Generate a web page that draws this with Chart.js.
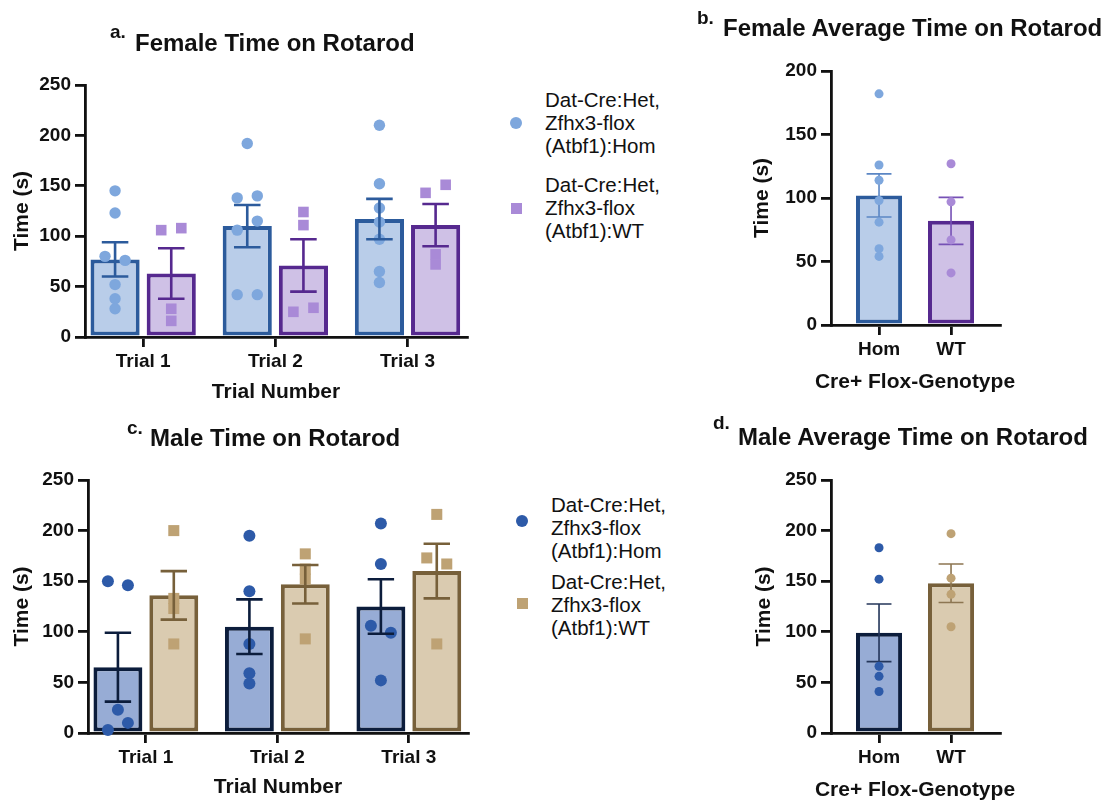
<!DOCTYPE html>
<html>
<head>
<meta charset="utf-8">
<script src="https://cdn.jsdelivr.net/npm/chart.js@4.4.0/dist/chart.umd.min.js"></script>
<style>
    body { margin: 0; background: #fff; font-family: 'Liberation Sans', Arial, sans-serif; color: #111; }
    #page { position: relative; width: 1113px; height: 801px; overflow: hidden; }
    canvas { position: absolute; }
    .title { position: absolute; font-weight: 700; font-size: 24px; line-height: 24px; white-space: nowrap; }
    .letter { position: absolute; font-weight: 700; font-size: 19px; line-height: 19px; }
    .axis-title { position: absolute; font-weight: 700; font-size: 21px; line-height: 21px; white-space: nowrap; transform: translateX(-50%); }
    .legend { position: absolute; font-size: 20.5px; line-height: 23px; white-space: pre; }
    .mark { position: absolute; }
</style>
</head>
<body>
<div id="page">
    <canvas id="chartA" width="480" height="390" style="left:0;top:20px"></canvas>
    <canvas id="chartB" width="423" height="400" style="left:690px;top:0"></canvas>
    <canvas id="chartC" width="480" height="381" style="left:0;top:420px"></canvas>
    <canvas id="chartD" width="423" height="391" style="left:690px;top:410px"></canvas>

    <div class="letter" style="left:110px;top:22px">a.</div>
    <div class="title" style="left:135px;top:31px">Female Time on Rotarod</div>
    <div class="letter" style="left:697px;top:8px">b.</div>
    <div class="title" style="left:723px;top:16px">Female Average Time on Rotarod</div>
    <div class="letter" style="left:127px;top:418px">c.</div>
    <div class="title" style="left:150px;top:426px">Male Time on Rotarod</div>
    <div class="letter" style="left:713px;top:413px">d.</div>
    <div class="title" style="left:738px;top:425px">Male Average Time on Rotarod</div>

    <!-- wider than the plot, so kept out of the canvas where Chart.js would squeeze it -->
    <div class="axis-title" style="left:915px;top:370px">Cre+ Flox-Genotype</div>
    <div class="axis-title" style="left:915px;top:778px">Cre+ Flox-Genotype</div>
</div>

<script>
const trials = ['Trial 1', 'Trial 2', 'Trial 3'];
const genotypes = ['Hom', 'WT'];
const groupLabels = ['Dat-Cre:Het,\nZfhx3-flox\n(Atbf1):Hom', 'Dat-Cre:Het,\nZfhx3-flox\n(Atbf1):WT'];

// a. female, per trial
const femHomMean = [77, 110, 117];
const femHomSem = [17, 21, 20];
const femWtMean = [63, 71, 111];
const femWtSem = [25, 26, 21];
const femHomPts = [[145, 123, 80, 76, 52, 38, 28], [192, 138, 140, 106, 115, 42, 42], [210, 152, 128, 114, 97, 65, 54]];
const femWtPts = [[106, 108, 28, 16], [124, 111, 25, 29], [143, 151, 82, 72]];

// b. female average
const femAvgMean = [102, 82];
const femAvgSem = [17, 18.5];
const femAvgHomPts = [182, 126, 114, 98, 81, 60, 54];
const femAvgWtPts = [127, 97, 67, 41];

// c. male, per trial
const maleHomMean = [65, 105, 125];
const maleHomSem = [34, 27, 27];
const maleWtMean = [136, 147, 160];
const maleWtSem = [24, 19, 27];
const maleHomPts = [[150, 146, 23, 3, 10], [195, 140, 88, 59, 49], [207, 167, 106, 99, 52]];
const maleWtPts = [[200, 133, 123, 88], [177, 162, 152, 93], [216, 173, 167, 88]];

// d. male average
const maleAvgMean = [99, 148];
const maleAvgSem = [28.5, 19];
const maleAvgHomPts = [183, 152, 66, 56, 41];
const maleAvgWtPts = [197, 153, 137, 105];

const COL = {
    femHom: { fill: '#b9cde9', line: '#2c5b9c', dot: '#7ea7dd', err: '#5b86c4' },
    femWt: { fill: '#cfc1e6', line: '#56298f', dot: '#a98ad7', err: '#7651b5' },
    maleHom: { fill: '#97acd5', line: '#0c1d3c', dot: '#2d5aa8', err: '#24365a' },
    maleWt: { fill: '#dacbb0', line: '#77603a', dot: '#bea274', err: '#8d7652' }
};

Chart.defaults.font.family = "'Liberation Sans', Arial, sans-serif";
Chart.defaults.color = '#111';

const CAT_PCT = 0.85;
const GROUP_OFF = CAT_PCT / 4;   // centre of each bar in a pair, category units
const JIT = 0.076;               // half distance of side by side points

// points closer than tol sit side by side, in the order they were listed
function spread(vals, base, tol) {
    const idx = vals.map((v, i) => i).sort((a, b) => vals[a] - vals[b]);
    const xs = vals.map(() => base);
    let group = [idx[0]];
    const flush = () => {
        group.sort((a, b) => a - b);
        group.forEach((g, k) => { xs[g] = base + (k - (group.length - 1) / 2) * 2 * JIT; });
    };
    for (let k = 1; k < idx.length; k++) {
        if (vals[idx[k]] - vals[idx[k - 1]] < tol) group.push(idx[k]);
        else { flush(); group = [idx[k]]; }
    }
    flush();
    return vals.map((v, i) => ({ x: xs[i], y: v }));
}

function drawErr(chart, i, opts) {
    const ds = chart.data.datasets[i];
    if (!ds.sem) return;
    const meta = chart.getDatasetMeta(i);
    const y = chart.scales.y;
    const ctx = chart.ctx;
    ctx.save();
    ctx.lineWidth = opts.width;
    meta.data.forEach((bar, j) => {
        const mean = ds.data[j].y, s = ds.sem[j];
        const top = y.getPixelForValue(mean + s), bot = y.getPixelForValue(mean - s);
        const half = bar.width * opts.cap;
        ctx.strokeStyle = Array.isArray(ds.errColor) ? ds.errColor[j] : ds.errColor;
        ctx.beginPath();
        ctx.moveTo(bar.x, top); ctx.lineTo(bar.x, bot);
        ctx.moveTo(bar.x - half, top); ctx.lineTo(bar.x + half, top);
        ctx.moveTo(bar.x - half, bot); ctx.lineTo(bar.x + half, bot);
        ctx.stroke();
    });
    ctx.restore();
}

const errorBars = {
    id: 'errorBars',
    afterDatasetDraw(chart, args, opts) {
        if (!opts.onTop) drawErr(chart, args.index, opts);
    },
    afterDatasetsDraw(chart, args, opts) {
        if (opts.onTop) chart.data.datasets.forEach((ds, i) => drawErr(chart, i, opts));
    }
};

function buildChart(id, p) {
    const datasets = [];
    p.bars.forEach(b => datasets.push({
        type: 'bar', label: b.label,
        data: b.mean.map((m, i) => ({ x: i, y: m })),
        sem: b.sem, errColor: b.err,
        backgroundColor: b.fill, borderColor: b.line, borderWidth: 4, borderSkipped: false,
        categoryPercentage: p.catPct, barPercentage: p.barPct, order: 2
    }));
    p.dots.forEach(d => datasets.push({
        type: 'scatter', label: d.label, data: d.pts,
        pointStyle: d.style, pointRadius: d.r, backgroundColor: d.color, borderWidth: 0,
        clip: false, order: 1
    }));

    return new Chart(document.getElementById(id), {
        type: 'bar',
        data: { datasets },
        options: {
            responsive: false,
            animation: false,
            events: [],
            layout: { padding: p.pad },
            plugins: {
                legend: { display: false },
                tooltip: { enabled: false },
                errorBars: { onTop: p.errOnTop, width: p.errWidth, cap: 0.27 }
            },
            scales: {
                x: {
                    type: 'linear', min: p.xMin, max: p.xMax, offset: false,
                    afterBuildTicks: s => { s.ticks = p.cats.map((c, i) => ({ value: i })); },
                    afterFit: s => { s.height = p.xHeight; },
                    ticks: {
                        callback: v => p.cats[v], font: { size: 19, weight: 'bold' }, color: '#111',
                        padding: 3, maxRotation: 0, autoSkip: false
                    },
                    grid: { drawOnChartArea: false, tickLength: 10, color: '#111', lineWidth: 2.8, offset: false },
                    border: { color: '#111', width: 2.8 },
                    title: {
                        display: !!p.xTitle, text: p.xTitle, color: '#111',
                        font: { size: 21, weight: 'bold' }, padding: { top: 0, bottom: p.xTitlePad }
                    }
                },
                y: {
                    min: 0, max: p.yMax,
                    afterFit: s => { s.width = p.yWidth; },
                    ticks: { stepSize: 50, font: { size: 19, weight: 'bold' }, color: '#111', padding: 4 },
                    grid: { drawOnChartArea: false, tickLength: 10, color: '#111', lineWidth: 2.8 },
                    border: { color: '#111', width: 2.8 },
                    title: {
                        display: true, text: 'Time (s)', color: '#111',
                        font: { size: 21, weight: 'bold' }, padding: { top: p.yTitlePad, bottom: 0 }
                    }
                }
            }
        },
        plugins: [errorBars]
    });
}

function trialDots(pts, side, col, style, r, label) {
    const all = [];
    pts.forEach((vals, i) => spread(vals, i + side * GROUP_OFF, 10).forEach(pt => all.push(pt)));
    return { label, pts: all, style, r, color: col.dot };
}

// a.
buildChart('chartA', {
    cats: trials, xTitle: 'Trial Number', yMax: 250,
    xMin: -0.44, xMax: 2.45,
    pad: { top: 65, right: 13, bottom: 0, left: 0 }, yWidth: 85, xHeight: 73,
    yTitlePad: 10, xTitlePad: 5,
    catPct: CAT_PCT, barPct: 0.875, errOnTop: true, errWidth: 2.6,
    bars: [
        { label: groupLabels[0], mean: femHomMean, sem: femHomSem, fill: COL.femHom.fill, line: COL.femHom.line, err: COL.femHom.line },
        { label: groupLabels[1], mean: femWtMean, sem: femWtSem, fill: COL.femWt.fill, line: COL.femWt.line, err: COL.femWt.line }
    ],
    dots: [
        trialDots(femHomPts, -1, COL.femHom, 'circle', 5.7, groupLabels[0]),
        trialDots(femWtPts, 1, COL.femWt, 'rect', 7.5, groupLabels[1])
    ]
});

// b.
buildChart('chartB', {
    cats: genotypes, xTitle: '', yMax: 200,
    xMin: -0.667, xMax: 1.68,
    pad: { top: 71, right: 113, bottom: 0, left: 0 }, yWidth: 141, xHeight: 75,
    yTitlePad: 60, xTitlePad: 8,
    catPct: 1, barPct: 0.64, errOnTop: false, errWidth: 1.6,
    bars: [
        { label: 'Female average', mean: femAvgMean, sem: femAvgSem,
          fill: [COL.femHom.fill, COL.femWt.fill], line: [COL.femHom.line, COL.femWt.line], err: [COL.femHom.err, COL.femWt.err] }
    ],
    dots: [
        { label: genotypes[0], pts: spread(femAvgHomPts, 0, 0), style: 'circle', r: 4.5, color: COL.femHom.dot },
        { label: genotypes[1], pts: spread(femAvgWtPts, 1, 0), style: 'circle', r: 4.5, color: COL.femWt.dot }
    ]
});

// c.
buildChart('chartC', {
    cats: trials, xTitle: 'Trial Number', yMax: 250,
    xMin: -0.44, xMax: 2.45,
    pad: { top: 60, right: 12, bottom: 0, left: 0 }, yWidth: 88, xHeight: 68,
    yTitlePad: 10, xTitlePad: 1,
    catPct: CAT_PCT, barPct: 0.875, errOnTop: true, errWidth: 2.6,
    bars: [
        { label: groupLabels[0], mean: maleHomMean, sem: maleHomSem, fill: COL.maleHom.fill, line: COL.maleHom.line, err: COL.maleHom.line },
        { label: groupLabels[1], mean: maleWtMean, sem: maleWtSem, fill: COL.maleWt.fill, line: COL.maleWt.line, err: COL.maleWt.line }
    ],
    dots: [
        trialDots(maleHomPts, -1, COL.maleHom, 'circle', 6, groupLabels[0]),
        trialDots(maleWtPts, 1, COL.maleWt, 'rect', 7.8, groupLabels[1])
    ]
});

// d.
buildChart('chartD', {
    cats: genotypes, xTitle: '', yMax: 250,
    xMin: -0.667, xMax: 1.68,
    pad: { top: 70, right: 113, bottom: 0, left: 0 }, yWidth: 141, xHeight: 68,
    yTitlePad: 62, xTitlePad: 1,
    catPct: 1, barPct: 0.64, errOnTop: false, errWidth: 1.6,
    bars: [
        { label: 'Male average', mean: maleAvgMean, sem: maleAvgSem,
          fill: [COL.maleHom.fill, COL.maleWt.fill], line: [COL.maleHom.line, COL.maleWt.line], err: [COL.maleHom.err, COL.maleWt.err] }
    ],
    dots: [
        { label: genotypes[0], pts: spread(maleAvgHomPts, 0, 0), style: 'circle', r: 4.5, color: COL.maleHom.dot },
        { label: genotypes[1], pts: spread(maleAvgWtPts, 1, 0), style: 'circle', r: 4.5, color: COL.maleWt.dot }
    ]
});

// legends for a. and c.
function addLegend(x, textX, entries) {
    const page = document.getElementById('page');
    entries.forEach(e => {
        const size = e.round ? 12 : 11;
        const m = document.createElement('div');
        m.className = 'mark';
        m.style.width = size + 'px';
        m.style.height = size + 'px';
        m.style.left = (x - size / 2) + 'px';
        m.style.top = (e.markY - size / 2) + 'px';
        m.style.background = e.color;
        if (e.round) m.style.borderRadius = '50%';
        page.appendChild(m);
        const t = document.createElement('div');
        t.className = 'legend';
        t.style.left = textX + 'px';
        t.style.top = e.top + 'px';
        t.textContent = e.text;
        page.appendChild(t);
    });
}
addLegend(516, 545, [
    { text: groupLabels[0], top: 88, markY: 123, color: COL.femHom.dot, round: true },
    { text: groupLabels[1], top: 173, markY: 208, color: COL.femWt.dot, round: false }
]);
addLegend(522, 551, [
    { text: groupLabels[0], top: 493, markY: 521, color: COL.maleHom.dot, round: true },
    { text: groupLabels[1], top: 570, markY: 603, color: COL.maleWt.dot, round: false }
]);
</script>
</body>
</html>
